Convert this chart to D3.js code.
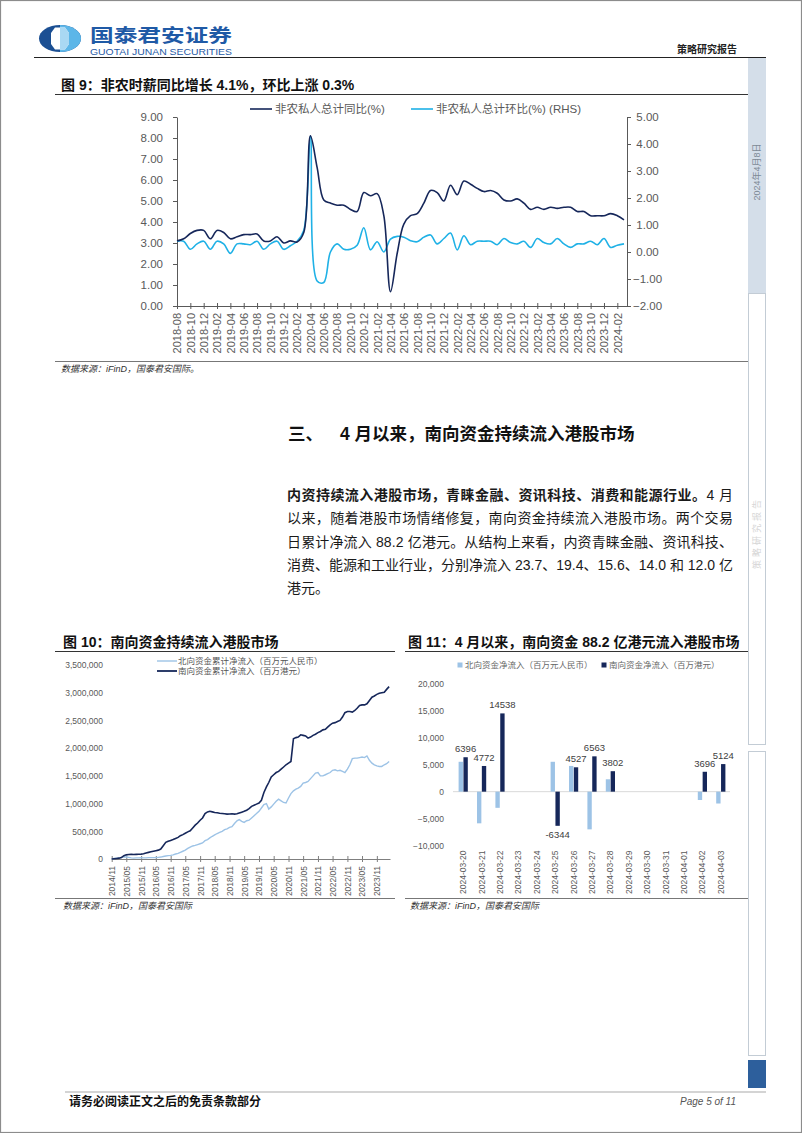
<!DOCTYPE html>
<html><head><meta charset="utf-8">
<script src="https://cdn.jsdelivr.net/npm/d3@7/dist/d3.min.js"></script>
<style>
html,body{margin:0;padding:0;background:#fff;}
svg{display:block;}
text{font-family:"Liberation Sans","Noto Sans CJK SC",sans-serif;}
</style></head>
<body>
<svg id="page" width="802" height="1133"></svg>
<script>
// ---------------- DATA ----------------
// Chart 9: monthly 2018-08 .. 2024-03
const tickLabels9 = ["2018-08","2018-10","2018-12","2019-02","2019-04","2019-06","2019-08","2019-10","2019-12","2020-02","2020-04","2020-06","2020-08","2020-10","2020-12","2021-02","2021-04","2021-06","2021-08","2021-10","2021-12","2022-02","2022-04","2022-06","2022-08","2022-10","2022-12","2023-02","2023-04","2023-06","2023-08","2023-10","2023-12","2024-02"];
const yoyPrivate = [3.1,3.2,3.45,3.6,3.6,3.2,3.6,3.5,3.2,3.3,3.4,3.4,3.43,3.1,3.1,3.3,3.0,3.1,3.05,3.5,8.1,6.6,5.05,4.9,4.8,4.8,4.6,4.5,5.4,5.25,5.35,4.3,0.68,2.5,3.9,4.3,4.4,4.9,5.5,5.4,5.0,5.75,5.3,5.95,5.8,5.6,5.45,5.5,5.37,5.05,5.0,5.1,4.9,4.6,4.7,4.6,4.7,4.65,4.7,4.7,4.5,4.5,4.3,4.3,4.3,4.4,4.3,4.1];
const momPrivate = [0.4,0.4,0.1,0.3,0.4,0.1,0.4,0.3,-0.05,0.3,0.3,0.27,0.4,0.1,0.3,0.4,0.1,0.23,0.4,0.8,4.3,-1.07,-1.13,0.0,0.3,0.1,0.1,0.25,0.9,0.08,0.38,0.0,0.48,0.58,0.55,0.42,0.38,0.55,0.63,0.3,0.5,0.7,0.08,0.6,0.27,0.4,0.4,0.4,0.27,0.5,0.35,0.3,0.4,0.17,0.5,0.35,0.3,0.5,0.3,0.17,0.3,0.3,0.4,0.27,0.5,0.17,0.25,0.3];
const leftTicks9 = [0,1,2,3,4,5,6,7,8,9];
const rightTicks9 = [-2,-1,0,1,2,3,4,5];
const seriesNames9 = ["非农私人总计同比(%)","非农私人总计环比(%) (RHS)"];

// Chart 10: monthly 2014-11 .. 2024-04 cumulative flows
const tickLabels10 = ["2014/11","2015/05","2015/11","2016/05","2016/11","2017/05","2017/11","2018/05","2018/11","2019/05","2019/11","2020/05","2020/11","2021/05","2021/11","2022/05","2022/11","2023/05","2023/11"];
const southCum = [0,5000,10000,15000,25000,60000,75000,80000,85000,82000,84000,86000,88000,95000,110000,120000,130000,140000,150000,160000,180000,240000,300000,320000,335000,350000,370000,390000,420000,440000,465000,490000,510000,560000,610000,650000,700000,740000,820000,850000,860000,850000,840000,835000,825000,820000,815000,810000,812000,815000,810000,815000,830000,845000,860000,880000,910000,950000,970000,990000,1010000,1060000,1200000,1300000,1380000,1480000,1520000,1560000,1580000,1620000,1660000,1700000,1730000,1760000,2170000,2190000,2200000,2240000,2230000,2220000,2180000,2200000,2230000,2250000,2280000,2300000,2330000,2340000,2380000,2420000,2450000,2460000,2480000,2500000,2560000,2640000,2660000,2660000,2650000,2680000,2720000,2770000,2780000,2780000,2800000,2860000,2920000,2940000,2970000,2990000,3000000,3010000,3060000,3110000];
const northCum = [0,10000,15000,20000,25000,40000,35000,30000,20000,15000,20000,20000,25000,20000,20000,25000,25000,25000,25000,30000,35000,45000,55000,60000,65000,75000,90000,100000,120000,140000,160000,190000,215000,235000,245000,260000,275000,290000,330000,350000,380000,410000,435000,460000,480000,500000,530000,545000,570000,585000,640000,690000,710000,680000,660000,690000,700000,740000,780000,820000,860000,920000,980000,1000000,900000,940000,990000,1040000,1080000,1050000,1020000,1010000,1100000,1180000,1230000,1260000,1280000,1310000,1370000,1380000,1400000,1450000,1500000,1550000,1560000,1500000,1500000,1520000,1540000,1560000,1600000,1610000,1590000,1600000,1580000,1560000,1620000,1700000,1810000,1820000,1820000,1830000,1840000,1830000,1860000,1780000,1730000,1700000,1680000,1670000,1670000,1700000,1720000,1760000];
const yTicks10 = [0,500000,1000000,1500000,2000000,2500000,3000000,3500000];
const seriesNames10 = ["北向资金累计净流入（百万元人民币）","南向资金累计净流入（百万港元）"];

// Chart 11: daily net flows
const dates11 = ["2024-03-20","2024-03-21","2024-03-22","2024-03-23","2024-03-24","2024-03-25","2024-03-26","2024-03-27","2024-03-28","2024-03-29","2024-03-30","2024-03-31","2024-04-01","2024-04-02","2024-04-03"];
const northDaily = [5550,-5880,-3000,null,null,5550,4780,-7000,2300,null,null,null,null,-1550,-2200];
const southDaily = [6396,4772,14538,null,null,-6344,4527,6563,3802,null,null,null,null,3696,5124];
const yTicks11 = [-10000,-5000,0,5000,10000,15000,20000];
const seriesNames11 = ["北向资金净流入（百万元人民币）","南向资金净流入（百万港元）"];

// ---------------- STYLE ----------------
const NAVY = "#16275a", CYAN = "#1fb1e6", LIGHT = "#9dc3e6", AXIS = "#595959", TXT = "#595959";
const CJK = '"Noto Sans CJK SC","Liberation Sans",sans-serif';

const svg = d3.select("#page");
svg.append("rect").attr("x",0.5).attr("y",0.5).attr("width",801).attr("height",1132).attr("fill","#fff").attr("stroke","#8c8c8c").attr("stroke-width",1.2);

// ---------------- HEADER ----------------
const logo = svg.append("g");
logo.append("ellipse").attr("cx",60).attr("cy",38.5).attr("rx",21).attr("ry",13.5).attr("fill","#1b4f93");
logo.append("path").attr("d","M60,25 A21,13.5 0 0 1 60,52 Z").attr("fill","#5cb6e8");
logo.append("path").attr("d","M55,27.5 L65,27.5 L69,33 L69,44 L65,49.5 L55,49.5 L51,44 L51,33 Z").attr("fill","#fff");
logo.append("path").attr("d","M60,27.5 L65,27.5 L69,33 L69,44 L65,49.5 L60,49.5 Z").attr("fill","#a9d8f3");
svg.append("text").attr("transform","translate(90,41.5) scale(1.28,1)").attr("font-family",CJK).attr("font-size",18.5).attr("font-weight",700).attr("fill","#1f5aa6").text("国泰君安证券");
svg.append("text").attr("x",90).attr("y",54.5).attr("font-size",8.5).attr("fill","#1f5aa6").attr("textLength",142).attr("lengthAdjust","spacingAndGlyphs").text("GUOTAI JUNAN SECURITIES");
svg.append("text").attr("x",737).attr("y",53).attr("text-anchor","end").attr("font-family",CJK).attr("font-size",10).attr("font-weight",700).attr("fill","#222").text("策略研究报告");
svg.append("line").attr("x1",34).attr("x2",766).attr("y1",57.5).attr("y2",57.5).attr("stroke","#222").attr("stroke-width",1);

// ---------------- SIDEBAR ----------------
svg.append("rect").attr("x",748).attr("y",58).attr("width",18).attr("height",235).attr("fill","#d4dee9");
svg.append("text").attr("transform","translate(760,172) rotate(-90)").attr("text-anchor","middle").attr("font-family",CJK).attr("font-size",9).attr("fill","#7d8995").text("2024年4月8日");
svg.append("rect").attr("x",748.5).attr("y",293.5).attr("width",17).attr("height",451).attr("fill","#fff").attr("stroke","#c3ccd5");
svg.append("text").attr("transform","translate(760,533) rotate(-90)").attr("text-anchor","middle").attr("font-family",CJK).attr("font-size",9).attr("letter-spacing",3).attr("fill","#d6d6d6").text("策略研究报告");
svg.append("rect").attr("x",748.5).attr("y",751.5).attr("width",17).attr("height",304).attr("fill","#fff").attr("stroke","#c3ccd5");
svg.append("rect").attr("x",748).attr("y",1060).attr("width",18).attr("height",28).attr("fill","#2d5f9c");

// ---------------- FOOTER ----------------
svg.append("line").attr("x1",65).attr("x2",766).attr("y1",1092).attr("y2",1092).attr("stroke","#d4d4d4").attr("stroke-width",2);
svg.append("text").attr("x",69).attr("y",1106).attr("font-family",CJK).attr("font-size",12).attr("font-weight",700).attr("fill","#111").text("请务必阅读正文之后的免责条款部分");
svg.append("text").attr("x",736).attr("y",1105).attr("text-anchor","end").attr("font-size",10).attr("font-style","italic").attr("fill","#555").text("Page 5 of 11");

// helper: chart title + rule
function chartTitle(x, y, text, x1, x2){
  svg.append("text").attr("x",x).attr("y",y).attr("font-family",CJK).attr("font-size",14).attr("font-weight",700).attr("fill","#111").text(text);
  svg.append("line").attr("x1",x1).attr("x2",x2).attr("y1",y+4.5).attr("y2",y+4.5).attr("stroke","#333").attr("stroke-width",1);
}
function source(x, y, x1, x2, text){
  svg.append("line").attr("x1",x1).attr("x2",x2).attr("y1",y-7.5).attr("y2",y-7.5).attr("stroke","#777").attr("stroke-width",1);
  svg.append("text").attr("x",x).attr("y",y+3).attr("font-family",CJK).attr("font-size",9).attr("font-style","italic").attr("fill","#333").text(text);
}

// ---------------- CHART 9 ----------------
chartTitle(61, 90, "图 9：非农时薪同比增长 4.1%，环比上涨 0.3%", 55, 748);
{
  const g = svg.append("g");
  const x = d3.scaleLinear().domain([0, 67.45]).range([177, 627]);
  const yL = d3.scaleLinear().domain([0, 9]).range([306, 117]);
  const yR = d3.scaleLinear().domain([-2, 5]).range([306, 117]);

  const ax = g.append("g").attr("transform","translate(0,306)")
    .call(d3.axisBottom(x).tickValues(d3.range(0, 67, 2)).tickFormat((d,i)=>tickLabels9[i]).tickSizeOuter(0));
  ax.select(".domain").attr("stroke",AXIS);
  ax.selectAll(".tick line").attr("y1",-3).attr("y2",3).attr("stroke",AXIS);
  ax.selectAll(".tick text").attr("transform","rotate(-90)").attr("x",-7).attr("y",0).attr("dy","0.35em")
    .attr("text-anchor","end").attr("font-size",11).attr("fill",TXT).attr("font-family",null);

  const al = g.append("g").attr("transform","translate(177,0)")
    .call(d3.axisLeft(yL).tickValues(leftTicks9).tickFormat(d3.format(".2f")).tickSize(4).tickSizeOuter(0));
  al.select(".domain").attr("stroke",AXIS);
  al.selectAll(".tick line").attr("stroke",AXIS);
  al.selectAll(".tick text").attr("x",-14).attr("font-size",11.5).attr("fill",TXT).attr("font-family",null);

  const ar = g.append("g").attr("transform","translate(627,0)")
    .call(d3.axisRight(yR).tickValues(rightTicks9).tickFormat(d3.format(".2f")).tickSize(4).tickSizeOuter(0));
  ar.select(".domain").attr("stroke",AXIS);
  ar.selectAll(".tick line").attr("stroke",AXIS);
  ar.selectAll(".tick text").attr("x",20.5).attr("text-anchor","middle").attr("font-size",11.5).attr("fill",TXT).attr("font-family",null);

  const lineR = d3.line().x((d,i)=>x(i)).y(d=>yR(d)).curve(d3.curveCatmullRom.alpha(0.5));
  const lineL = d3.line().x((d,i)=>x(i)).y(d=>yL(d)).curve(d3.curveCatmullRom.alpha(0.5));
  g.append("path").datum(momPrivate).attr("d",lineR).attr("fill","none").attr("stroke",CYAN).attr("stroke-width",1.6);
  g.append("path").datum(yoyPrivate).attr("d",lineL).attr("fill","none").attr("stroke",NAVY).attr("stroke-width",1.6);

  // legend
  const leg = [{x:250, c:NAVY, t:seriesNames9[0]},{x:411, c:CYAN, t:seriesNames9[1]}];
  leg.forEach(l=>{
    g.append("line").attr("x1",l.x).attr("x2",l.x+22).attr("y1",109).attr("y2",109).attr("stroke",l.c).attr("stroke-width",1.6);
    g.append("text").attr("x",l.x+25).attr("y",113).attr("font-family",CJK).attr("font-size",11.5).attr("fill",TXT).text(l.t);
  });
}
source(61, 369, 55, 748, "数据来源：iFinD，国泰君安国际。");

// ---------------- SECTION TEXT ----------------
svg.append("text").attr("x",288).attr("y",440).attr("font-family",CJK).attr("font-size",17.5).attr("font-weight",700).attr("fill","#111").text("三、");
svg.append("text").attr("x",340).attr("y",440).attr("font-family",CJK).attr("font-size",17.5).attr("font-weight",700).attr("fill","#111").text("4 月以来，南向资金持续流入港股市场");

const paraLines = [
  [["内资持续流入港股市场，青睐金融、资讯科技、消费和能源行业。",700],["4 月",400]],
  [["以来，随着港股市场情绪修复，南向资金持续流入港股市场。两个交易",400]],
  [["日累计净流入 88.2 亿港元。从结构上来看，内资青睐金融、资讯科技、",400]],
  [["消费、能源和工业行业，分别净流入 23.7、19.4、15.6、14.0 和 12.0 亿",400]],
  [["港元。",400]]
];
paraLines.forEach((ln, i)=>{
  const t = svg.append("text").attr("x",287).attr("y",500 + i*23.35).attr("font-family",CJK).attr("font-size",14).attr("fill","#1a1a1a");
  ln.forEach(seg=>t.append("tspan").attr("font-weight",seg[1]).text(seg[0]));
  if (i < 4) {
    const len = t.node().getComputedTextLength();
    const n = ln.map(s=>s[0]).join("").length;
    const ls = (446 - len) / (n - 1);
    t.attr("letter-spacing", ls);
  }
});

// ---------------- CHART 10 ----------------
chartTitle(63, 647, "图 10：南向资金持续流入港股市场", 55, 395);
{
  const g = svg.append("g");
  const months = d3.timeMonth.range(new Date(2014,10,1), new Date(2024,4,1));
  const x = d3.scaleTime().domain([new Date(2014,10,1), new Date(2024,3,12)]).range([111.7, 390]);
  const y = d3.scaleLinear().domain([0, 3500000]).range([859, 665]);
  const tickDates = tickLabels10.map(s=>{const [a,b]=s.split("/"); return new Date(+a, +b-1, 1);});

  const ax = g.append("g").attr("transform","translate(0,859)")
    .call(d3.axisBottom(x).tickValues(tickDates).tickFormat((d,i)=>tickLabels10[i]).tickSizeOuter(0));
  ax.select(".domain").attr("stroke","#7f7f7f");
  ax.selectAll(".tick line").attr("y1",-3).attr("y2",3).attr("stroke","#7f7f7f");
  ax.selectAll(".tick text").attr("transform","rotate(-90)").attr("x",-7).attr("y",0).attr("dy","0.35em")
    .attr("text-anchor","end").attr("font-size",8.5).attr("fill",TXT).attr("font-family",null);

  const ay = g.append("g").attr("transform","translate(103,0)")
    .call(d3.axisLeft(y).tickValues(yTicks10).tickFormat(d3.format(",")).tickSize(0));
  ay.select(".domain").remove();
  ay.selectAll(".tick text").attr("x",0).attr("font-size",8.5).attr("fill",TXT).attr("font-family",null);

  const line = d3.line().x((d,i)=>x(months[i])).y(d=>y(d));
  g.append("path").datum(northCum).attr("d",line).attr("fill","none").attr("stroke",LIGHT).attr("stroke-width",1.4);
  g.append("path").datum(southCum).attr("d",line).attr("fill","none").attr("stroke",NAVY).attr("stroke-width",1.6);

  [{y:661,c:LIGHT,w:1.4,t:seriesNames10[0]},{y:671,c:NAVY,w:1.8,t:seriesNames10[1]}].forEach(l=>{
    g.append("line").attr("x1",157).attr("x2",177).attr("y1",l.y).attr("y2",l.y).attr("stroke",l.c).attr("stroke-width",l.w);
    g.append("text").attr("x",178).attr("y",l.y+3).attr("font-family",CJK).attr("font-size",8.5).attr("fill","#555").text(l.t);
  });
}
source(63, 906, 55, 395, "数据来源：iFinD，国泰君安国际");

// ---------------- CHART 11 ----------------
chartTitle(408, 647, "图 11：4 月以来，南向资金 88.2 亿港元流入港股市场", 405, 748);
{
  const g = svg.append("g");
  const x = d3.scaleBand().domain(dates11).range([454, 730]).paddingInner(0.5).paddingOuter(0.25);
  const x1 = d3.scaleBand().domain(["n","s"]).range([0, x.bandwidth()]).paddingInner(0.1);
  const y = d3.scaleLinear().domain([-10000, 20000]).range([845.5, 684]);

  const ay = g.append("g").attr("transform","translate(444,0)")
    .call(d3.axisLeft(y).tickValues(yTicks11).tickFormat(d3.format(",")).tickSize(0));
  ay.select(".domain").remove();
  ay.selectAll(".tick text").attr("x",0).attr("font-size",8.5).attr("fill",TXT).attr("font-family",null);

  g.append("line").attr("x1",453).attr("x2",730).attr("y1",y(0)).attr("y2",y(0)).attr("stroke","#d9d9d9").attr("stroke-width",1);

  const ax = g.append("g").attr("transform","translate(0,845.5)")
    .call(d3.axisBottom(x).tickSize(0));
  ax.select(".domain").remove();
  ax.selectAll(".tick text").attr("transform","rotate(-90)").attr("x",-5).attr("y",0).attr("dy","0.35em")
    .attr("text-anchor","end").attr("font-size",8.5).attr("fill",TXT).attr("font-family",null);

  const rows = dates11.map((d,i)=>({d, n:northDaily[i], s:southDaily[i]}));
  g.selectAll(".nb").data(rows.filter(r=>r.n!==null)).join("rect")
    .attr("x",r=>x(r.d)+x1("n")).attr("width",x1.bandwidth())
    .attr("y",r=>Math.min(y(0),y(r.n))).attr("height",r=>Math.abs(y(r.n)-y(0))).attr("fill",LIGHT);
  g.selectAll(".sb").data(rows.filter(r=>r.s!==null)).join("rect")
    .attr("x",r=>x(r.d)+x1("s")).attr("width",x1.bandwidth())
    .attr("y",r=>Math.min(y(0),y(r.s))).attr("height",r=>Math.abs(y(r.s)-y(0))).attr("fill",NAVY);
  g.selectAll(".sl").data(rows.filter(r=>r.s!==null)).join("text")
    .attr("x",r=>x(r.d)+x1("s")+x1.bandwidth()/2)
    .attr("y",r=> r.s>=0 ? y(r.s)-5 : y(r.s)+12.5)
    .attr("text-anchor","middle").attr("font-size",9.5).attr("fill","#404040").text(r=>r.s);

  [{x:460,c:LIGHT,t:seriesNames11[0]},{x:604,c:NAVY,t:seriesNames11[1]}].forEach(l=>{
    g.append("rect").attr("x",l.x-2.5).attr("y",662.5).attr("width",5).attr("height",5).attr("fill",l.c);
    g.append("text").attr("x",l.x+5).attr("y",668).attr("font-family",CJK).attr("font-size",8.5).attr("fill","#666").text(l.t);
  });
}
source(410, 906, 405, 748, "数据来源：iFinD，国泰君安国际");
</script>
</body></html>
